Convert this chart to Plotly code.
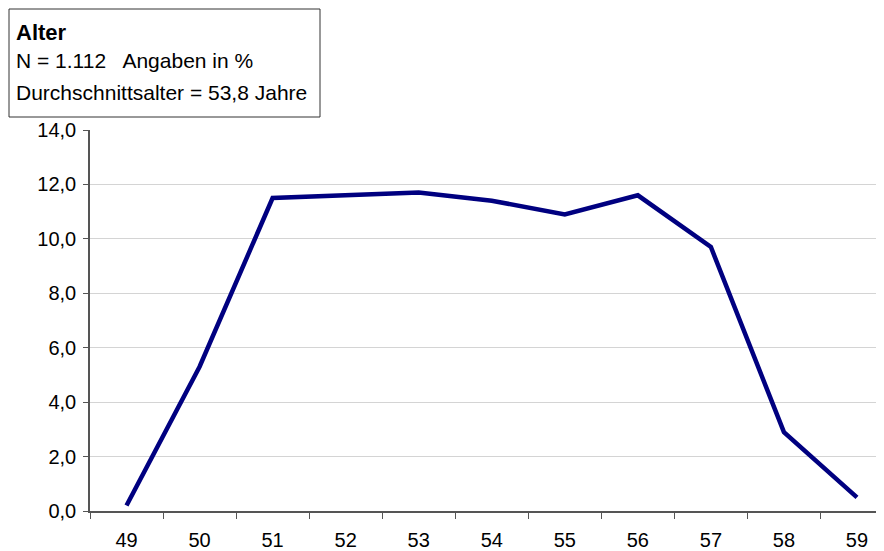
import plotly.graph_objects as go

ages = ["49", "50", "51", "52", "53", "54", "55", "56", "57", "58", "59"]
percent = [0.2, 5.3, 11.5, 11.6, 11.7, 11.4, 10.9, 11.6, 9.7, 2.9, 0.5]
y_ticks = [0, 2, 4, 6, 8, 10, 12, 14]
title_lines = ["<b>Alter</b>", "N = 1.112   Angaben in %", "Durchschnittsalter = 53,8 Jahre"]

# the page places the figure at (8, 8); work in figure pixels
W, H = 876, 543
L, T, B, R = 82, 122, 40, 0
PW, PH = W - L - R, H - T - B

def px(fx):
    return (fx - L) / PW

def py(fy):
    return (H - B - fy) / PH

fig = go.Figure()
fig.add_trace(go.Scatter(
    x=ages, y=percent, mode="lines",
    line=dict(color="#000080", width=4.5),
    hoverinfo="skip",
))

fig.update_layout(
    width=W, height=H,
    margin=dict(l=L, r=R, t=T, b=B, pad=0),
    paper_bgcolor="white", plot_bgcolor="white",
    showlegend=False,
    separators=",.",
    font=dict(family="Liberation Sans, Arial, sans-serif", size=20, color="black"),
)
fig.update_xaxes(
    type="category", tickson="boundaries", ticks="outside", ticklen=6,
    tickcolor="#555555", showline=True, linecolor="#555555", linewidth=1.5,
    showgrid=False, range=[-0.5, 10.37], ticklabelstandoff=10,
    tickfont=dict(size=20),
)
fig.update_yaxes(
    range=[0, 14], tickvals=y_ticks, tickformat=".1f", ticks="outside",
    ticklen=5, tickcolor="#555555", showline=True, linecolor="#555555",
    linewidth=1.5, gridcolor="#d4d4d4", gridwidth=1, zeroline=False,
    ticklabelstandoff=3, tickfont=dict(size=20),
)

fig.add_shape(type="rect", xref="paper", yref="paper",
              x0=px(1), x1=px(312), y0=py(109), y1=py(1),
              line=dict(color="#333333", width=1), fillcolor="white")
ys = [24, 52, 84]
sizes = [22, 21, 21]
for txt, yy, sz in zip(title_lines, ys, sizes):
    fig.add_annotation(xref="paper", yref="paper",
                       x=px(6), y=py(yy),
                       xanchor="left", yanchor="middle", showarrow=False,
                       text=txt, font=dict(size=sz, color="black"))

fig.write_html("out.html")
